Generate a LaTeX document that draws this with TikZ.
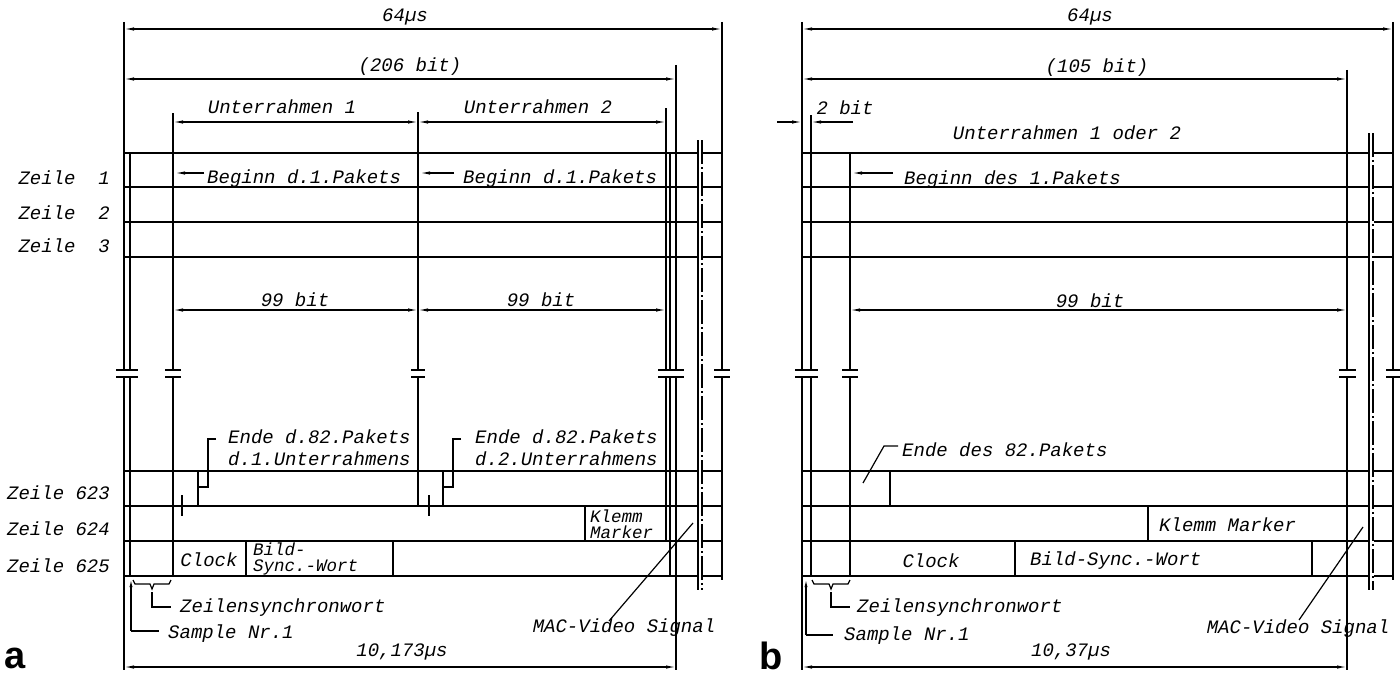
\documentclass[tikz,border=0pt]{standalone}
\usepackage{fontspec}
\usetikzlibrary{arrows.meta}
\newfontfamily\tfont{Liberation Mono}
\newfontfamily\lfont{Liberation Sans}
\begin{document}
\begin{tikzpicture}[x=1pt,y=-1pt,
  fr/.style={line width=2.5pt},
  vl/.style={line width=2pt},
  th/.style={line width=1.2pt},
  dimarr/.style={line width=1.2pt,{Latex[length=10pt,width=3.4pt]}-{Latex[length=10pt,width=3.4pt]}},
  onearr/.style={line width=1.2pt,-{Latex[length=10pt,width=3.4pt]}},
  txt/.style={font=\tfont\fontsize{19}{19}\selectfont\itshape, inner sep=0pt},
  two/.style={font=\tfont\fontsize{19}{19}\selectfont\itshape, inner sep=0pt, align=left},
  tight/.style={font=\tfont\fontsize{17.5}{16}\selectfont\itshape, inner sep=0pt, align=left},
  big/.style={font=\lfont\bfseries\fontsize{38}{38}\selectfont, inner sep=0pt},
  brk/.style={line width=1.5pt},
  dd/.style={line width=1.5pt, dash pattern=on 24pt off 3pt on 2pt off 3pt},
]
\useasboundingbox (0,0) rectangle (1400,677);

% ================= Panel a =================
\foreach \yy in {153,187,222,257,471,506,541,576}{
  \draw[fr] (124,\yy) -- (697,\yy);
  \draw[fr] (703,\yy) -- (722,\yy);
}
\draw[vl] (124,22) -- (124,370) (124,377) -- (124,670);
\draw[vl] (130,153) -- (130,370) (130,377) -- (130,576);
\draw[vl] (116,370) -- (138,370) (116,377) -- (138,377);
\draw[vl] (173,113) -- (173,370) (173,377) -- (173,576);
\draw[vl] (165,370) -- (181,370) (165,377) -- (181,377);
\draw[vl] (418,112) -- (418,370) (418,377) -- (418,506);
\draw[vl] (411,370) -- (425,370) (411,377) -- (425,377);
\draw[vl] (666,108) -- (666,370) (666,377) -- (666,541);
\draw[vl] (670,153) -- (670,370) (670,377) -- (670,576);
\draw[vl] (676,65) -- (676,370) (676,377) -- (676,670);
\draw[vl] (658,370) -- (684,370) (658,377) -- (684,377);
\draw[vl] (722,22) -- (722,370) (722,377) -- (722,580);
\draw[vl] (714,370) -- (730,370) (714,377) -- (730,377);
\draw[brk] (698,140) -- (698,590);
\draw[dd] (702,140) -- (702,590);

\node[txt] (a64) at (405,17) {64µs};
\draw[dimarr] (124,29) -- (722,29);
\node[txt] (a206) at (410,67) {(206 bit)};
\draw[dimarr] (124,79) -- (676,79);
\node[txt] (aU1) at (282,107) {Unterrahmen 1};
\node[txt] (aU2) at (538,107) {Unterrahmen 2};
\draw[dimarr] (173,122) -- (418,122);
\draw[dimarr] (418,122) -- (666,122);
\node[txt] (a99a) at (295,300) {99 bit};
\node[txt] (a99b) at (541,300) {99 bit};
\draw[dimarr] (173,310) -- (418,310);
\draw[dimarr] (418,310) -- (666,310);

\node[txt,anchor=west] (aB1) at (207,179) {Beginn d.1.Pakets};
\node[txt,anchor=west] (aB2) at (463,179) {Beginn d.1.Pakets};
\coordinate (aB1s) at (204,173);
\coordinate (aB2s) at (454,173);
\draw[onearr] (aB1s) -- (175,173);
\draw[onearr] (aB2s) -- (420,173);

\node[txt,anchor=east] (z1) at (110,178) {Zeile\ \ 1};
\node[txt,anchor=east] (z2) at (110,213) {Zeile\ \ 2};
\node[txt,anchor=east] (z3) at (110,246) {Zeile\ \ 3};
\node[txt,anchor=east] (z623) at (110,493) {Zeile 623};
\node[txt,anchor=east] (z624) at (110,529) {Zeile 624};
\node[txt,anchor=east] (z625) at (110,566) {Zeile 625};

\node[two,anchor=west] (aE1) at (228,448) {Ende d.82.Pakets\\[3pt]d.1.Unterrahmens};
\node[two,anchor=west] (aE2) at (475,448) {Ende d.82.Pakets\\[3pt]d.2.Unterrahmens};
\draw[th] (216,439) -- (208,439) -- (208,487) -- (198,487);
\draw[vl] (198,471) -- (198,506);
\draw[th] (182,495) -- (182,516);
\draw[th] (461,439) -- (453,439) -- (453,487) -- (443,487);
\draw[vl] (443,471) -- (443,506);
\draw[th] (429,495) -- (429,516);

\draw[vl] (585,506) -- (585,541);
\node[tight,anchor=west] (aK) at (590,524) {Klemm\\Marker};
\draw[vl] (246,541) -- (246,576);
\draw[vl] (393,541) -- (393,576);
\node[txt] (aC) at (209,560) {Clock};
\node[tight,anchor=west] (aS) at (253,559) {Bild-\\Sync.-Wort};

\draw[th] (133,580) -- (135,584) -- (150,584) -- (152,589) -- (154,584) -- (169,584) -- (171,580);
\draw[th] (152,592) -- (152,607) -- (171,607);
\node[txt,anchor=west] (aZ) at (180,608) {Zeilensynchronwort};
\draw[th,-{Latex[length=8pt,width=3pt]}] (131,631) -- (131,579);
\draw[th] (131,631) -- (159,631);
\node[txt,anchor=west] (aSN) at (168,634) {Sample Nr.1};
\node[txt] (aM) at (624,628) {MAC-Video Signal};
\draw[th] (609,621) -- (693,523);
\node[txt] (a10) at (402,652) {10,173µs};
\draw[dimarr] (124,667) -- (676,667);
\node[big] (la) at (15,658) {a};

% ================= Panel b =================
\foreach \yy in {153,187,222,257,471,506,541,576}{
  \draw[fr] (802,\yy) -- (1368,\yy);
  \draw[fr] (1374,\yy) -- (1393,\yy);
}
\draw[vl] (802,22) -- (802,370) (802,377) -- (802,670);
\draw[vl] (811,115) -- (811,370) (811,377) -- (811,576);
\draw[vl] (795,370) -- (818,370) (795,377) -- (818,377);
\draw[vl] (850,153) -- (850,370) (850,377) -- (850,576);
\draw[vl] (842,370) -- (858,370) (842,377) -- (858,377);
\draw[vl] (1347,70) -- (1347,370) (1347,377) -- (1347,670);
\draw[vl] (1339,370) -- (1356,370) (1339,377) -- (1356,377);
\draw[vl] (1393,22) -- (1393,370) (1393,377) -- (1393,580);
\draw[vl] (1386,370) -- (1400,370) (1386,377) -- (1400,377);
\draw[brk] (1369,133) -- (1369,590);
\draw[dd] (1373,133) -- (1373,590);

\node[txt] (b64) at (1090,17) {64µs};
\draw[dimarr] (802,29) -- (1393,29);
\node[txt] (b105) at (1097,68) {(105 bit)};
\draw[dimarr] (802,79) -- (1347,79);
\node[txt] (b2) at (845,108) {2 bit};
\coordinate (b2l) at (777,122);
\coordinate (b2r) at (853,122);
\draw[onearr] (b2l) -- (802,122);
\draw[onearr] (b2r) -- (811,122);
\node[txt] (bU) at (1067,133) {Unterrahmen 1 oder 2};
\node[txt,anchor=west] (bB) at (904,180) {Beginn des 1.Pakets};
\coordinate (bBs) at (893,173);
\draw[onearr] (bBs) -- (852,173);
\node[txt] (b99) at (1090,301) {99 bit};
\draw[dimarr] (850,310) -- (1347,310);

\node[txt,anchor=west] (bE) at (902,450) {Ende des 82.Pakets};
\draw[th] (863,483) -- (884,446) -- (898,446);
\draw[vl] (890,471) -- (890,506);
\draw[vl] (1148,506) -- (1148,541);
\node[txt,anchor=west] (bK) at (1159,525) {Klemm Marker};
\draw[vl] (1015,541) -- (1015,576);
\draw[vl] (1312,541) -- (1312,576);
\node[txt] (bC) at (931,561) {Clock};
\node[txt,anchor=west] (bS) at (1030,561) {Bild-Sync.-Wort};

\draw[th] (812,580) -- (814,584) -- (829,584) -- (831,589) -- (833,584) -- (848,584) -- (850,580);
\draw[th] (831,592) -- (831,607) -- (850,607);
\node[txt,anchor=west] (bZ) at (857,608) {Zeilensynchronwort};
\draw[th,-{Latex[length=8pt,width=3pt]}] (806,635) -- (806,579);
\draw[th] (806,635) -- (833,635);
\node[txt,anchor=west] (bSN) at (844,636) {Sample Nr.1};
\node[txt] (bM) at (1298,629) {MAC-Video Signal};
\draw[th] (1299,620) -- (1363,527);
\node[txt] (b10) at (1071,652) {10,37µs};
\draw[dimarr] (802,667) -- (1347,667);
\node[big] (lb) at (771,656) {b};
\end{tikzpicture}
\end{document}
